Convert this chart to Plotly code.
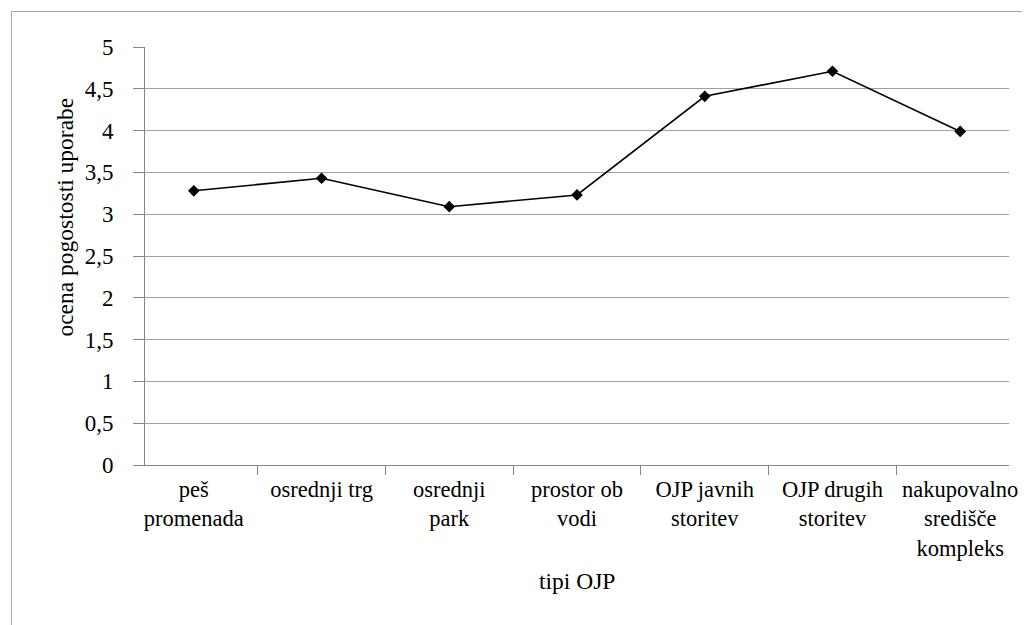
"""
plot.py
Line chart: ocena pogostosti uporabe po tipih OJP.
"""

import plotly.graph_objects as go


# ── Data ──────────────────────────────────────────────────────────────────────

CATEGORIES = [
    "peš<br>promenada",
    "osrednji trg",
    "osrednji<br>park",
    "prostor ob<br>vodi",
    "OJP javnih<br>storitev",
    "OJP drugih<br>storitev",
    "nakupovalno<br>središče<br>kompleks",
]
VALUES = [3.28, 3.43, 3.09, 3.23, 4.41, 4.71, 3.99]

Y_TICKS = [0, 0.5, 1, 1.5, 2, 2.5, 3, 3.5, 4, 4.5, 5]

X_TITLE = "tipi OJP"
Y_TITLE = "ocena pogostosti uporabe"

# ── Style ─────────────────────────────────────────────────────────────────────

FAMILY = "Liberation Serif"
TITLE_FONT = dict(family=FAMILY, size=23.5, color="#000000")
YTICK_FONT = dict(family=FAMILY, size=23, color="#000000")
XTICK_FONT = dict(family=FAMILY, size=22.5, color="#000000")
AXIS_GREY = "#868686"
GRID_GREY = "#a0a0a0"

# page has an 8px body margin, so the figure is drawn offset by 8px
W, H = 1022, 617
M = dict(l=137, r=15, t=39, b=160)
PW = W - M["l"] - M["r"]
PH = H - M["t"] - M["b"]


def px_to_paper_x(px):
    return (px - M["l"]) / PW


def px_to_paper_y(py):
    return (H - M["b"] - py) / PH


fig = go.Figure(
    go.Scatter(
        x=CATEGORIES,
        y=VALUES,
        mode="lines+markers",
        line=dict(color="#000000", width=1.6),
        marker=dict(symbol="diamond", size=9, color="#000000"),
        showlegend=False,
    )
)

fig.update_layout(
    width=W,
    height=H,
    margin=M,
    paper_bgcolor="#ffffff",
    plot_bgcolor="#ffffff",
    font=dict(family=FAMILY, color="#000000"),
    separators=", ",
    shapes=[
        # outer chart border (runs past the right and bottom edges)
        dict(
            type="rect",
            xref="paper",
            yref="paper",
            x0=px_to_paper_x(2.5),
            x1=px_to_paper_x(W + 20),
            y0=px_to_paper_y(H + 20),
            y1=px_to_paper_y(3.5),
            line=dict(color="#a6a6a6", width=1),
            layer="below",
        )
    ],
    annotations=[
        dict(
            text=Y_TITLE,
            xref="paper",
            yref="paper",
            x=px_to_paper_x(56),
            y=px_to_paper_y(209),
            xanchor="center",
            yanchor="middle",
            textangle=-90,
            showarrow=False,
            font=TITLE_FONT,
        ),
        dict(
            text=X_TITLE,
            xref="paper",
            yref="paper",
            x=0.5,
            y=px_to_paper_y(573),
            xanchor="center",
            yanchor="middle",
            showarrow=False,
            font=TITLE_FONT,
        ),
    ],
)

fig.update_xaxes(
    type="category",
    showgrid=False,
    showline=True,
    linecolor=AXIS_GREY,
    linewidth=1,
    ticks="outside",
    tickson="boundaries",
    ticklen=9,
    tickcolor=AXIS_GREY,
    ticklabelstandoff=4,
    tickfont=XTICK_FONT,
)

fig.update_yaxes(
    range=[0, 5],
    tickvals=Y_TICKS,
    showgrid=True,
    gridcolor=GRID_GREY,
    gridwidth=1,
    zeroline=False,
    showline=True,
    linecolor=AXIS_GREY,
    linewidth=1,
    ticks="outside",
    ticklen=11,
    tickcolor=AXIS_GREY,
    ticklabelstandoff=15,
    tickfont=YTICK_FONT,
)

fig.write_html("out.html")
